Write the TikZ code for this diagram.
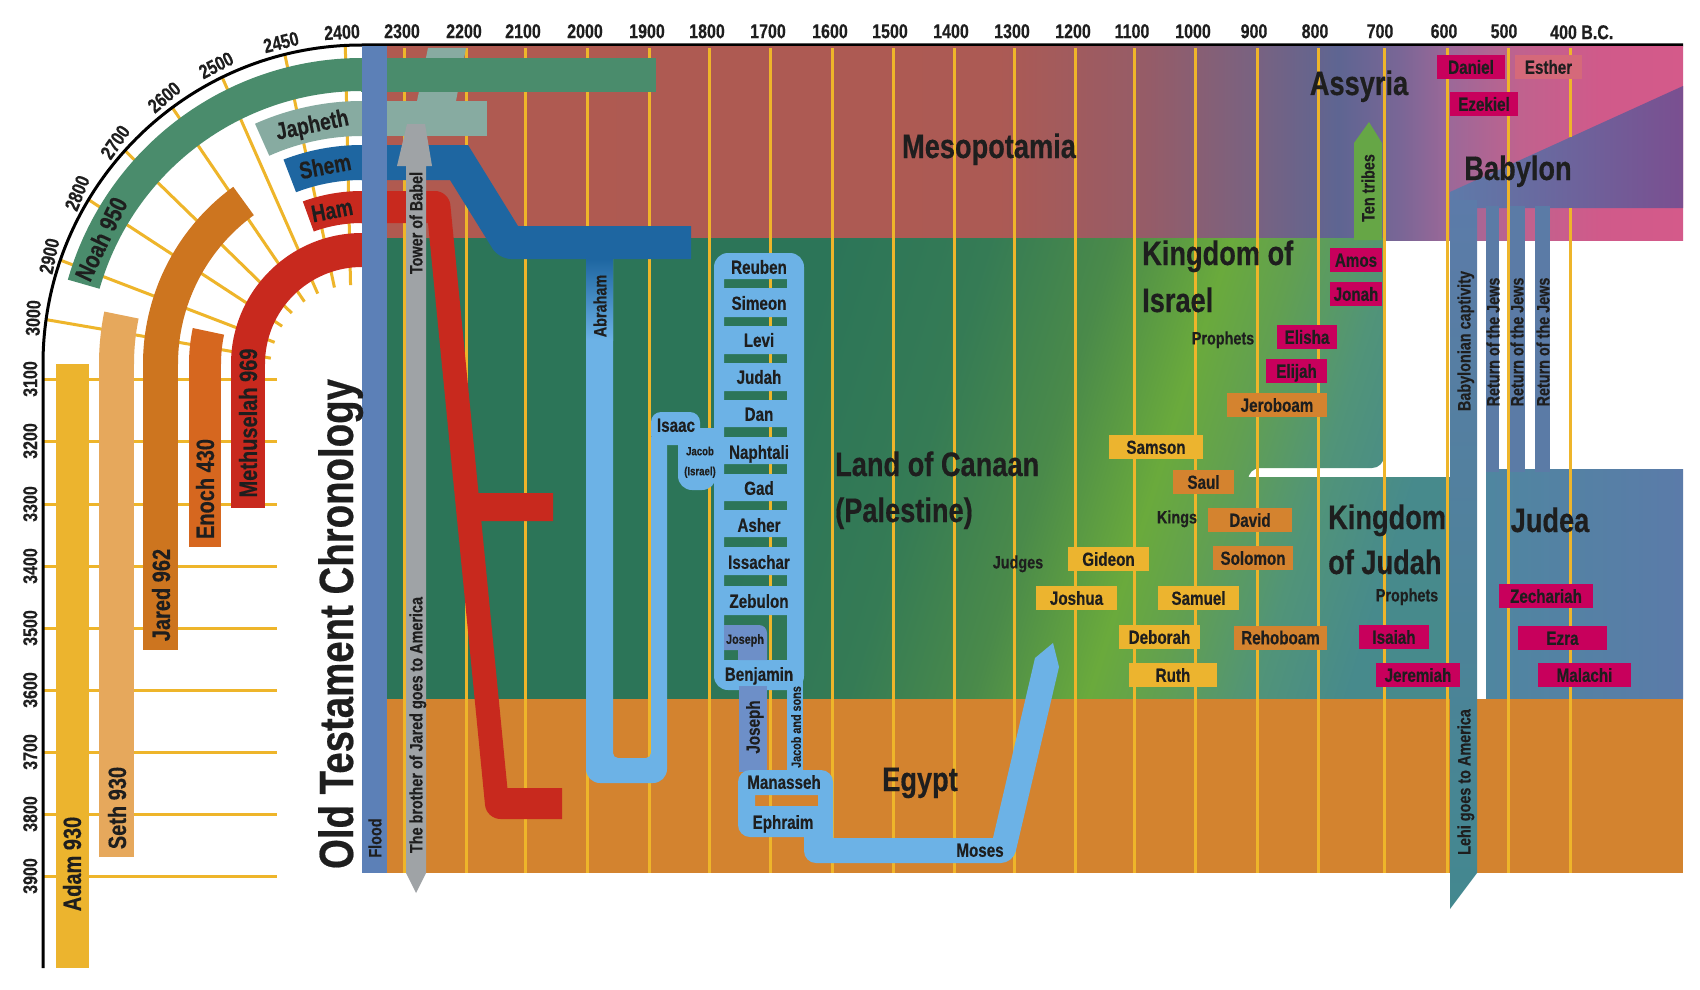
\documentclass[tikz,border=0pt]{standalone}
\usepackage{fontspec}
\setmainfont{Liberation Sans}[FakeStretch=0.8, BoldFeatures={FakeBold=0.4}]
\usetikzlibrary{calc}
\definecolor{txt}{HTML}{1E1E1E}
\definecolor{yl}{HTML}{EEB52A}
\definecolor{noah}{HTML}{4A8C6C}
\definecolor{japh}{HTML}{87ABA1}
\definecolor{shem}{HTML}{1E66A1}
\definecolor{hamr}{HTML}{C8291E}
\definecolor{flood}{HTML}{5C80B7}
\definecolor{grayar}{HTML}{9FA3A6}
\definecolor{adam}{HTML}{ECB42E}
\definecolor{seth}{HTML}{E6A85C}
\definecolor{jared}{HTML}{CD751F}
\definecolor{enoch}{HTML}{D6671F}
\definecolor{lb}{HTML}{6CB2E6}
\definecolor{jos}{HTML}{6D8FC8}
\definecolor{ybox}{HTML}{ECB42F}
\definecolor{obox}{HTML}{D4832F}
\definecolor{mbox}{HTML}{C8005C}
\definecolor{pbox}{HTML}{D5697A}
\definecolor{egypt}{HTML}{D3832F}
\definecolor{judl}{HTML}{4F86A0}
\definecolor{judr}{HTML}{5B7BA9}
\definecolor{babl}{HTML}{5E7AA9}
\definecolor{babm}{HTML}{6274A6}
\definecolor{babr}{HTML}{7A4F90}
\definecolor{ret}{HTML}{5B7BA6}
\definecolor{capt}{HTML}{5C7BA9}
\definecolor{lehi}{HTML}{43888F}
\definecolor{tent}{HTML}{66A646}
\definecolor{tb0}{HTML}{B05A50}
\definecolor{tb1}{HTML}{AC5A54}
\definecolor{tb2}{HTML}{955C68}
\definecolor{tb3}{HTML}{7A6280}
\definecolor{tb4}{HTML}{5E6592}
\definecolor{tb5}{HTML}{7A6696}
\definecolor{tb6}{HTML}{9C6898}
\definecolor{tb7}{HTML}{C0628E}
\definecolor{tb8}{HTML}{D05A8A}
\definecolor{tb9}{HTML}{D45A8A}
\definecolor{g0}{HTML}{2C7558}
\definecolor{g1}{HTML}{357B55}
\definecolor{g2}{HTML}{4A8A4A}
\definecolor{g3}{HTML}{6AAA3C}
\definecolor{g4}{HTML}{62A050}
\definecolor{g5}{HTML}{519478}
\definecolor{g6}{HTML}{478A8C}
\pgfdeclarehorizontalshading{topband}{100bp}{color(0bp)=(tb0); color(25bp)=(tb0); color(48.6bp)=(tb1); color(54.4bp)=(tb2); color(58.3bp)=(tb3); color(61.7bp)=(tb4); color(64.1bp)=(tb5); color(66bp)=(tb6); color(68.7bp)=(tb7); color(71.8bp)=(tb8); color(75bp)=(tb9); color(100bp)=(tb9)}
\pgfdeclarehorizontalshading{canaan}{100bp}{color(0bp)=(g0); color(42bp)=(g0); color(50bp)=(g1); color(56.5bp)=(g2); color(62.5bp)=(g3); color(66bp)=(g4); color(71bp)=(g5); color(76bp)=(g6); color(100bp)=(g6)}
\newcommand\ringseg[5]{\fill[#1] ($(362,364)+(-#2:#5)$) arc[start angle=-#2, end angle=-#3, radius=#5] -- ($(362,364)+(-#3:#4)$) arc[start angle=-#3, end angle=-#2, radius=#4] -- cycle;}
\tikzset{
  yline/.style={yl, line width=3pt},
  t12/.style={font=\fontsize{12}{13}\selectfont\bfseries, text=txt, inner sep=0pt, text height=8.6pt, text depth=0pt},
  t13/.style={font=\fontsize{13.5}{14}\selectfont\bfseries, text=txt, inner sep=0pt, text height=9.7pt, text depth=0pt},
  t18/.style={font=\fontsize{18}{20}\selectfont\bfseries, text=txt, inner sep=0pt, text height=12.9pt, text depth=0pt},
  t19/.style={font=\fontsize{19}{21}\selectfont\bfseries, text=txt, inner sep=0pt, text height=13.6pt, text depth=0pt},
  t20/.style={font=\fontsize{20}{22}\selectfont\bfseries, text=txt, inner sep=0pt, text height=14.3pt, text depth=0pt},
  t24/.style={font=\fontsize{24}{26}\selectfont\bfseries, text=txt, inner sep=0pt, text height=17.2pt, text depth=0pt},
  t25/.style={font=\fontsize{25}{27}\selectfont\bfseries, text=txt, inner sep=0pt, text height=17.9pt, text depth=0pt},
  reg/.style={font=\fontsize{34}{36}\selectfont\bfseries, text=txt, inner sep=0pt},
  pbx/.style={t19, minimum height=24pt},
}
\begin{document}
\begin{tikzpicture}[x=1pt,y=-1pt]
\useasboundingbox (0,0) rectangle (1700,990);
\fill[white] (0,0) rectangle (1700,990);
% ---------- left fan lines ----------
\foreach \a in {93,104,116,126.5,138,149,161,172}
  \draw[yline] ($(362,364)+(-\a:319)$) -- ($(355,370)+(-\a:85)$);
\foreach \yy in {379,441,504,566,628,690,752,814,876}
  \draw[yline] (43,\yy) -- (277,\yy);
% ---------- patriarch rings ----------
\ringseg{noah}{90}{164}{273}{306}
\ringseg{seth}{168.5}{180}{228}{263}
\fill[seth] (99,363.5) rectangle (134,857);
\fill[adam] (56,364) rectangle (89,968);
\ringseg{jared}{126}{180}{184}{219}
\fill[jared] (143,363.5) rectangle (178,650);
\ringseg{enoch}{168}{180}{141}{173}
\fill[enoch] (189,363.5) rectangle (221,547);
\ringseg{hamr}{90}{180}{97}{131}
\fill[hamr] (231,363.5) rectangle (265,508);
\ringseg{japh}{90}{114}{228}{263}
\ringseg{shem}{90}{111}{184}{219}
\ringseg{hamr}{90}{110}{141}{173}
% ---------- axis ----------
\draw[black, line width=3pt] (43,968) -- (43,364) arc[start angle=-180, end angle=-90, radius=319] -- (1683,45);
% ---------- backgrounds ----------
\shade[shading=topband] (387,46.5) rectangle (1683,240);
\shade[shading=canaan, shading angle=-17.3] (387,238) -- (1384,238) [rounded corners=12] -- (1384,468) -- (1248,468) [sharp corners] -- (1248,477) -- (1450,477) -- (1450,699) -- (387,699) -- cycle;
\fill[tent] (1354,240) -- (1354,143) -- (1369,122) -- (1382,143) -- (1382,240) -- cycle;
\shade[left color=judl, right color=judr] (1486,469) rectangle (1683,699);
\fill[egypt] (387,699) rectangle (1683,873);
\shade[left color=babl, middle color=babm, right color=babr] (1450,192) -- (1683,86) -- (1683,208) -- (1450,208) -- cycle;
\shade[top color=capt, bottom color=lehi] (1450,200) -- (1477,200) -- (1477,873) -- (1450,909) -- cycle;
\fill[ret] (1486,206) rectangle (1499,472);
\fill[ret] (1509,206) rectangle (1525,472);
\fill[ret] (1535,206) rectangle (1550,472);
% ---------- vertical year lines ----------
\foreach \xx in {404,466,525,587,649,709,770,832,893,954,1014,1075,1134,1195,1257,1318,1384,1447,1508}
  \draw[yline] (\xx,48) -- (\xx,873);
\draw[yline] (1570,48) -- (1570,137);
\draw[yline] (1570,208) -- (1570,873);
% ---------- sons of Noah ----------
\fill[japh] (417,101) -- (428,48) -- (466,48) -- (456,101) -- cycle;
\fill[noah] (361,58) rectangle (656,92);
\fill[japh] (361,101) rectangle (487,136);
\fill[shem] (361,145) -- (468,145) -- (518,226) -- (691,226) -- (691,259) [rounded corners=12] -- (499,259) [sharp corners] -- (450,180) -- (361,180) -- cycle;
\fill[hamr] (361,191) [rounded corners=14] -- (449,191) [sharp corners] -- (478.5,493) -- (553,493) -- (553,521) -- (481.3,521) -- (507.4,788) -- (562,788) -- (562,819) [rounded corners=14] -- (486.4,819) [sharp corners] -- (428,223) -- (361,223) -- cycle;
% ---------- Abraham, Isaac, Jacob ----------
\fill[lb] (586,259) [rounded corners=14] -- (586,783) -- (667,783) [sharp corners] -- (667,437) -- (651,437) [rounded corners=5] -- (651,758) -- (613,758) [sharp corners] -- (613,259) -- cycle;
\shade[top color=shem, bottom color=lb] (586,259) rectangle (613,340);
\fill[lb, rounded corners=10] (651,412) rectangle (700,445);
\fill[lb] (678,428) [rounded corners=14] -- (678,490) -- (716,490) [sharp corners] -- (716,428) -- cycle;
\fill[lb, even odd rule] [rounded corners=14] (714,253) rectangle (804,690) [sharp corners]
  (724,279) rectangle (787,288) (724,317) rectangle (787,326) (724,354) rectangle (787,363)
  (724,391) rectangle (787,400) (724,427) rectangle (787,437) (724,464) rectangle (787,474)
  (724,501) rectangle (787,510) (724,537) rectangle (787,547) (724,575) rectangle (787,586)
  (724,615) rectangle (787,660);
\fill[jos] (724,650) -- (724,625) [rounded corners=8] -- (767,625) [sharp corners] -- (767,660) -- (738,660) -- (738,650) -- cycle;
\fill[jos] (739,686) rectangle (767,772);
\fill[lb] (787,670) rectangle (803,772);
\fill[lb] (804,825) [rounded corners=12] -- (804,863) -- (1013,863) [sharp corners] -- (1059,667) -- (1053,643) -- (1035,658) -- (993,838) -- (833,838) -- (833,825) -- cycle;
\fill[lb, even odd rule] [rounded corners=12] (738,770) rectangle (833,837) [sharp corners] (755,795) rectangle (818,806);
% ---------- flood and tower ----------
\fill[flood] (362,46.5) rectangle (387,873);
\fill[grayar] (406,166) -- (397,166) -- (407,124) -- (425,124) -- (432,166) -- (426,166) -- (426,873) -- (416,893) -- (406,873) -- cycle;
% ---------- labels: axis ----------
\foreach \lab/\xx in {2300/402,2200/464,2100/523,2000/585,1900/647,1800/707,1700/768,1600/830,1500/890,1400/951,1300/1012,1200/1073,1100/1132,1000/1193,900/1254,800/1315,700/1380,600/1444,500/1504}
  \node[t20] (yr\lab) at (\xx,31) {\lab};
\node[t20, anchor=west] (yr400) at (1550,32) {400 B.C.};
\node[t20, rotate=3] (yr2400) at (342,32) {2400};
\node[t20, rotate=14] (yr2450) at (281,42) {2450};
\node[t20, rotate=27] (yr2500) at (216,65) {2500};
\node[t20, rotate=40] (yr2600) at (164,97) {2600};
\node[t20, rotate=55] (yr2700) at (115,142) {2700};
\node[t20, rotate=68] (yr2800) at (77,193) {2800};
\node[t20, rotate=78] (yr2900) at (49,256) {2900};
\node[t20, rotate=88] (yr3000) at (33,318) {3000};
\foreach \lab/\yy in {3100/379,3200/441,3300/504,3400/566,3500/628,3600/690,3700/752,3800/814,3900/876}
  \node[t20, rotate=90] (yr\lab) at (30,\yy) {\lab};
% ---------- labels: patriarchs ----------
\node[t25, rotate=64.5] (noahlab) at (101,239) {Noah 950};
\node[t24, rotate=11.7] (japhlab) at (312,124) {Japheth};
\node[t24, rotate=10.7] (shemlab) at (325,166) {Shem};
\node[t24, rotate=11] (hamlab) at (332,210) {Ham};
\node[t25, rotate=90] (adamlab) at (72,864) {Adam 930};
\node[t25, rotate=90] (sethlab) at (117,808) {Seth 930};
\node[t25, rotate=90] (jaredlab) at (161,595) {Jared 962};
\node[t25, rotate=90] (enochlab) at (205,489) {Enoch 430};
\node[t25, rotate=90] (methlab) at (248,423) {Methuselah 969};
\node[font=\fontsize{48}{50}\selectfont\bfseries, text=txt, rotate=90, anchor=base, inner sep=0pt] (title) at (353,624) {Old Testament Chronology};
\node[t18, rotate=90] (floodlab) at (375,838) {Flood};
\node[t18, rotate=90] (babel) at (416,223) {Tower of Babel};
\node[t18, rotate=90] (jaredam) at (416,725) {The brother of Jared goes to America};
% ---------- labels: regions ----------
\node[reg, anchor=base] (meso) at (989,158) {Mesopotamia};
\node[reg, anchor=base] (assy) at (1359,95) {Assyria};
\node[reg, anchor=base] (baby) at (1518,180) {Babylon};
\node[reg, anchor=base west] (isr1) at (1142,265) {Kingdom of};
\node[reg, anchor=base west] (isr2) at (1142,312) {Israel};
\node[reg, anchor=base west] (can1) at (835,476) {Land of Canaan};
\node[reg, anchor=base west] (can2) at (835,522) {(Palestine)};
\node[reg, anchor=base west] (jud1) at (1328,529) {Kingdom};
\node[reg, anchor=base west] (jud2) at (1328,574) {of Judah};
\node[reg, anchor=base] (egy) at (920,791) {Egypt};
\node[reg, anchor=base] (judea) at (1550,532) {Judea};
% ---------- labels: patriarchs of Israel ----------
\node[t18, rotate=90] (abr) at (600,306) {Abraham};
\node[t19] (isaac) at (676,425) {Isaac};
\node[t12] (jacob) at (700,451) {Jacob};
\node[t12] (israel) at (700,471) {(Israel)};
\foreach \nm/\yy in {Reuben/267,Simeon/303,Levi/340,Judah/377,Dan/414,Naphtali/452,Gad/488,Asher/525,Issachar/562,Zebulon/601,Benjamin/674}
  \node[t19] (tr\nm) at (759,\yy) {\nm};
\node[t13] (josbox) at (745,639) {Joseph};
\node[t19, rotate=90] (josv) at (753,727) {Joseph};
\node[t13, rotate=90] (jacsons) at (796,727) {Jacob and sons};
\node[t19] (manas) at (784,782) {Manasseh};
\node[t19] (ephr) at (783,822) {Ephraim};
\node[t19] (moses) at (980,850) {Moses};
% ---------- kings, judges, prophets ----------
\node[t18] (proph1) at (1223,338) {Prophets};
\node[t18] (kings) at (1177,517) {Kings};
\node[t18] (judges) at (1018,562) {Judges};
\node[t18] (proph2) at (1407,595) {Prophets};
\node[t18, rotate=90] (tentr) at (1368,188) {Ten tribes};
\node[t18, rotate=90] (captiv) at (1464,341) {Babylonian captivity};
\node[t18, rotate=90] (ret1) at (1493,342) {Return of the Jews};
\node[t18, rotate=90] (ret2) at (1517,342) {Return of the Jews};
\node[t18, rotate=90] (ret3) at (1543,342) {Return of the Jews};
\node[t18, rotate=90] (lehilab) at (1464,782) {Lehi goes to America};
% magenta boxes
\node[pbx, fill=mbox, minimum width=68pt] (daniel) at (1471,67) {Daniel};
\node[pbx, fill=pbox, minimum width=67pt] (esther) at (1548.5,67) {Esther};
\node[pbx, fill=mbox, minimum width=68pt] (ezekiel) at (1484,104) {Ezekiel};
\node[pbx, fill=mbox, minimum width=52pt] (amos) at (1356,260) {Amos};
\node[pbx, fill=mbox, minimum width=52pt] (jonah) at (1356,294) {Jonah};
\node[pbx, fill=mbox, minimum width=60pt] (elisha) at (1307,337) {Elisha};
\node[pbx, fill=mbox, minimum width=61pt] (elijah) at (1296.5,371) {Elijah};
\node[pbx, fill=mbox, minimum width=70pt] (isaiah) at (1394,637) {Isaiah};
\node[pbx, fill=mbox, minimum width=84pt] (jerem) at (1418,675) {Jeremiah};
\node[pbx, fill=mbox, minimum width=94pt] (zech) at (1546,596) {Zechariah};
\node[pbx, fill=mbox, minimum width=89pt] (ezra) at (1562.5,638) {Ezra};
\node[pbx, fill=mbox, minimum width=93pt] (malachi) at (1584.5,675) {Malachi};
% orange boxes
\node[pbx, fill=obox, minimum width=100pt] (jerob) at (1277,405) {Jeroboam};
\node[pbx, fill=obox, minimum width=61pt] (saul) at (1203.5,482) {Saul};
\node[pbx, fill=obox, minimum width=84pt] (david) at (1250,520) {David};
\node[pbx, fill=obox, minimum width=80pt] (solomon) at (1253,558) {Solomon};
\node[pbx, fill=obox, minimum width=93pt] (rehob) at (1280.5,637.5) {Rehoboam};
% yellow boxes
\node[pbx, fill=ybox, minimum width=94pt] (samson) at (1156,447) {Samson};
\node[pbx, fill=ybox, minimum width=81pt] (gideon) at (1108.5,559) {Gideon};
\node[pbx, fill=ybox, minimum width=81pt] (joshua) at (1076.5,598) {Joshua};
\node[pbx, fill=ybox, minimum width=81pt] (samuel) at (1198.5,598) {Samuel};
\node[pbx, fill=ybox, minimum width=81pt] (deborah) at (1159.5,637) {Deborah};
\node[pbx, fill=ybox, minimum width=88pt] (ruth) at (1173,675) {Ruth};
\end{tikzpicture}
\end{document}
